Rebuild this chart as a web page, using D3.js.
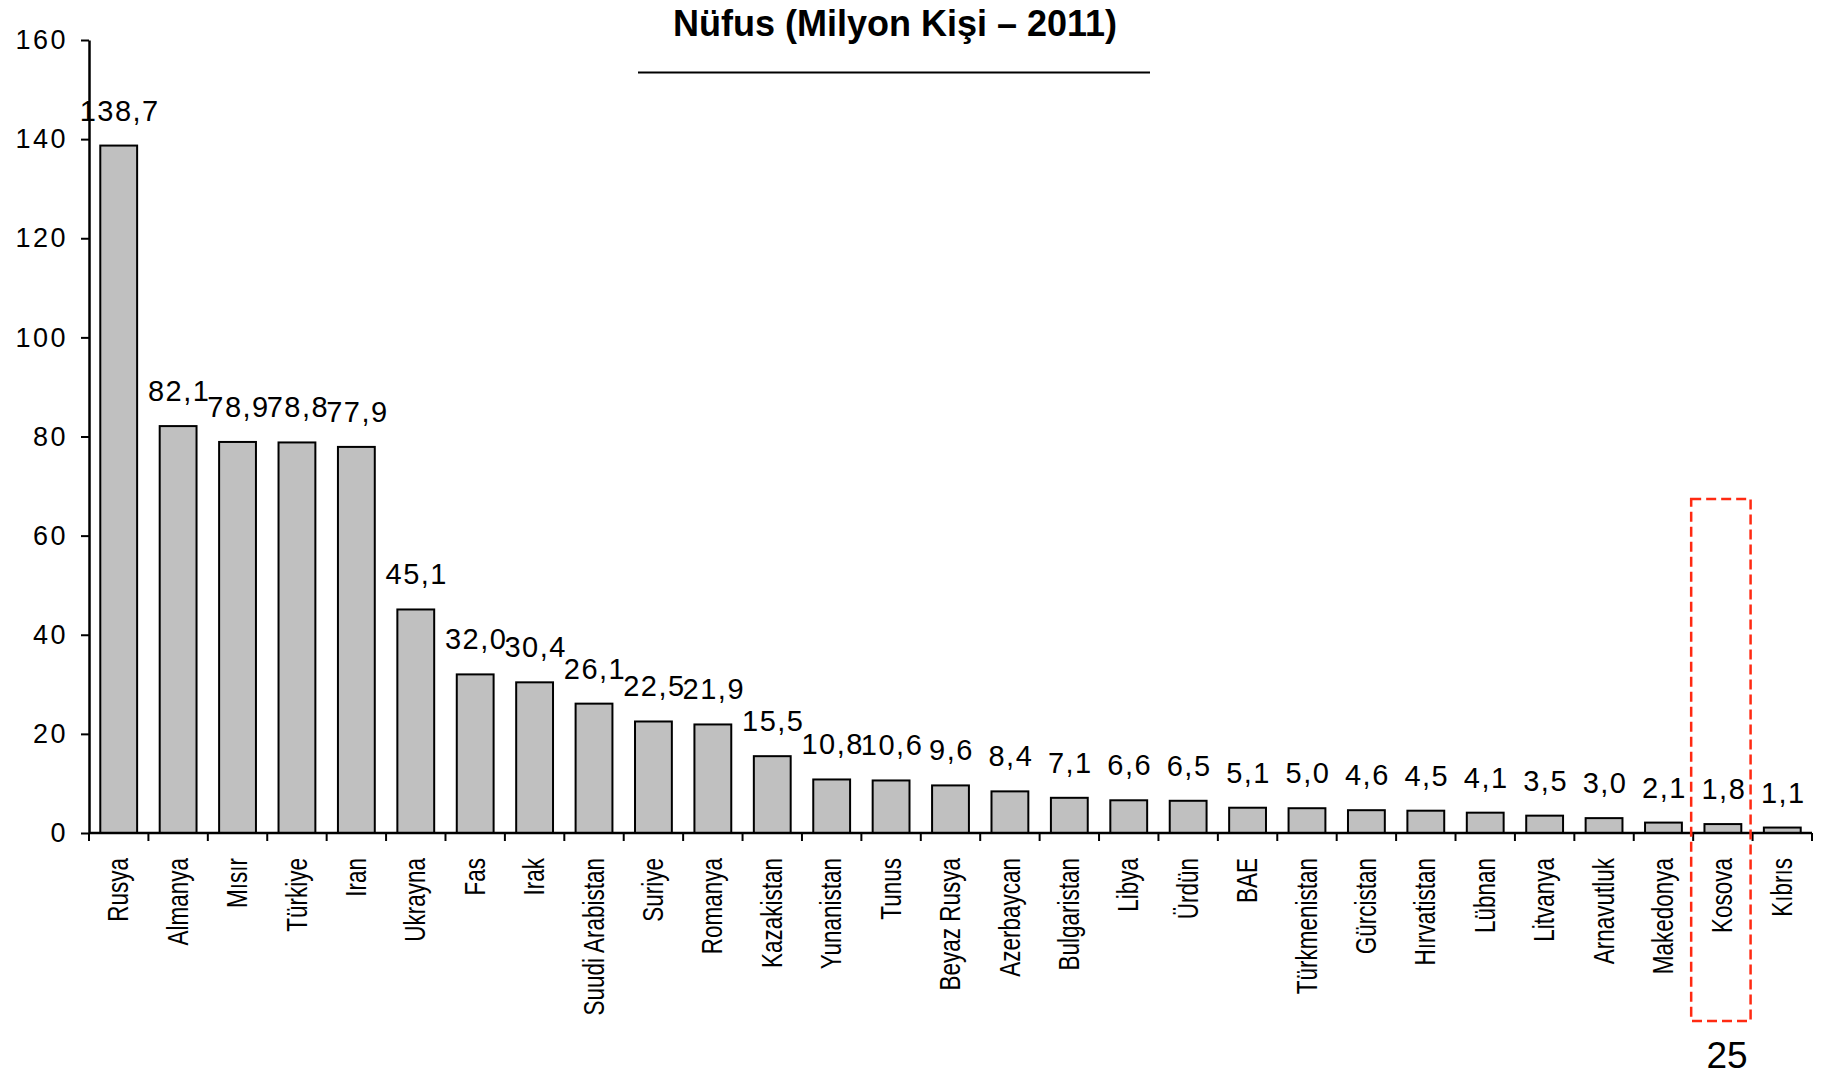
<!DOCTYPE html>
<html>
<head>
<meta charset="utf-8">
<script src="https://cdn.jsdelivr.net/npm/d3@7"></script>
<style>
  body { margin: 0; background: #fff; }
  svg { display: block; }
</style>
</head>
<body>
<svg id="chart" width="1835" height="1075"></svg>
<script>
// data (million people, 2011)
const categories = ["Rusya", "Almanya", "Mısır", "Türkiye", "Iran", "Ukrayna", "Fas", "Irak",
    "Suudi Arabistan", "Suriye", "Romanya", "Kazakistan", "Yunanistan", "Tunus", "Beyaz Rusya",
    "Azerbaycan", "Bulgaristan", "Libya", "Ürdün", "BAE", "Türkmenistan", "Gürcistan",
    "Hırvatistan", "Lübnan", "Litvanya", "Arnavutluk", "Makedonya", "Kosova", "Kıbrıs"];
const values = [138.7, 82.1, 78.9, 78.8, 77.9, 45.1, 32.0, 30.4, 26.1, 22.5, 21.9, 15.5, 10.8,
    10.6, 9.6, 8.4, 7.1, 6.6, 6.5, 5.1, 5.0, 4.6, 4.5, 4.1, 3.5, 3.0, 2.1, 1.8, 1.1];
const yTicks = [0, 20, 40, 60, 80, 100, 120, 140, 160];
const title = "Nüfus (Milyon Kişi – 2011)";
const highlighted = "Kosova";
const pageNumber = "25";

var svg = d3.select("#chart");
const margin = {left: 89, right: 23, top: 40, bottom: 242};
const width = 1835, height = 1075;
const plotBottom = height - margin.bottom;

var data = categories.map(function(c, i) { return {name: c, value: values[i]}; });

var x = d3.scaleBand()
    .domain(categories)
    .range([margin.left, width - margin.right])
    .paddingInner(0.38)
    .paddingOuter(0.19);

var y = d3.scaleLinear()
    .domain([0, 160])
    .range([plotBottom, margin.top]);

//title and its rule
svg.append("text")
    .attr("x", 895)
    .attr("y", 36)
    .attr("text-anchor", "middle")
    .style("font-family", "'Liberation Sans', Arial, sans-serif")
    .style("font-weight", "bold")
    .style("font-size", "36px")
    .text(title);

svg.append("line")
    .attr("x1", 638).attr("x2", 1150)
    .attr("y1", 72.5).attr("y2", 72.5)
    .attr("stroke", "#000")
    .attr("stroke-width", 2);

//bars
svg.append("g")
    .selectAll("rect")
    .data(data)
    .enter().append("rect")
    .attr("x", function(d) { return x(d.name); })
    .attr("y", function(d) { return y(d.value); })
    .attr("width", x.bandwidth())
    .attr("height", function(d) { return y(0) - y(d.value); })
    .attr("fill", "#c0c0c0")
    .attr("stroke", "#000")
    .attr("stroke-width", 2);

//value labels, decimal comma
var fmt = d3.format(".1f");
svg.append("g")
    .selectAll("text")
    .data(data)
    .enter().append("text")
    .attr("x", function(d) { return x(d.name) + x.bandwidth() / 2 + 1; })
    .attr("y", function(d) { return y(d.value) - 25; })
    .attr("text-anchor", "middle")
    .style("font-family", "'Liberation Sans', Arial, sans-serif")
    .style("font-size", "29px")
    .style("letter-spacing", "1.5px")
    .text(function(d) { return fmt(d.value).replace(".", ","); });

//y axis
var yAxis = d3.axisLeft(y)
    .tickValues(yTicks)
    .tickSize(8)
    .tickSizeOuter(0)
    .tickPadding(13);

var gy = svg.append("g")
    .attr("transform", "translate(" + margin.left + ",0)")
    .call(yAxis);
gy.select(".domain").attr("stroke-width", 2.5);
gy.selectAll(".tick line").attr("stroke-width", 2);
gy.selectAll(".tick text")
    .style("font-family", "'Liberation Sans', Arial, sans-serif")
    .style("font-size", "27px")
    .style("letter-spacing", "2.5px")
    .attr("fill", "#000");

//x axis line with ticks on the band edges
var step = x.step();
var edges = categories.map(function(c) { return x(c) - x.paddingInner() * step / 2; });
edges.push(width - margin.right);

svg.append("line")
    .attr("x1", margin.left).attr("x2", width - margin.right)
    .attr("y1", plotBottom).attr("y2", plotBottom)
    .attr("stroke", "#000")
    .attr("stroke-width", 2.5);

svg.append("g")
    .selectAll("line")
    .data(edges)
    .enter().append("line")
    .attr("x1", function(d) { return d; })
    .attr("x2", function(d) { return d; })
    .attr("y1", plotBottom)
    .attr("y2", plotBottom + 8)
    .attr("stroke", "#000")
    .attr("stroke-width", 2);

//category labels, rotated and squeezed like the slide
svg.append("g")
    .selectAll("text")
    .data(categories)
    .enter().append("text")
    .attr("transform", function(d) {
        return "translate(" + (x(d) + x.bandwidth() / 2) + "," + (plotBottom + 25) + ") rotate(-90) scale(0.75,1)";
    })
    .attr("text-anchor", "end")
    .attr("dy", "0.32em")
    .style("font-family", "'Liberation Sans', Arial, sans-serif")
    .style("font-size", "30px")
    .text(function(d) { return d; });

//dashed red frame round the highlighted country
svg.append("rect")
    .attr("x", x(highlighted) - x.paddingInner() * step / 2 - 2)
    .attr("y", 499)
    .attr("width", step)
    .attr("height", 1021 - 499)
    .attr("fill", "none")
    .attr("stroke", "#ff2a12")
    .attr("stroke-width", 2.5)
    .attr("stroke-dasharray", "10,5");

//page number
svg.append("text")
    .attr("x", 1727)
    .attr("y", 1068)
    .attr("text-anchor", "middle")
    .style("font-family", "'Liberation Sans', Arial, sans-serif")
    .style("font-size", "37px")
    .text(pageNumber);
</script>
</body>
</html>
